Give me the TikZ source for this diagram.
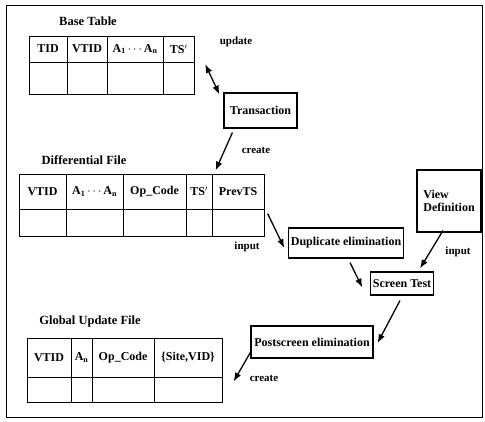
\documentclass[tikz,border=0pt]{standalone}
\usepackage{fontspec}
\setmainfont{Liberation Serif}
\usetikzlibrary{arrows.meta,matrix}

\tikzset{
  proc/.style={draw, line width=1.1pt, inner sep=2pt, font=\fontsize{12}{13}\selectfont\bfseries},
  tbl/.style={matrix of nodes, nodes in empty cells, anchor=north west,
    column sep=-1.1pt, row sep=-1.1pt,
    nodes={draw, line width=1.1pt, inner sep=0pt, anchor=center,
      font=\fontsize{12}{13}\selectfont\bfseries}},
  ttl/.style={font=\fontsize{12.5}{14}\selectfont\bfseries},
  lbl/.style={font=\fontsize{11}{12}\selectfont\bfseries},
  flow/.style={->, line width=1.3pt},
}

\begin{document}
\begin{tikzpicture}[>=Latex, x=1pt, y=-1pt]
    \useasboundingbox (0,0) rectangle (485,422);
    \draw[line width=0.8pt] (6,5) rectangle (482,417);

    % tables
    \node[ttl] (basettl) at (88,21) {Base Table};
    \matrix[tbl,
      column 1/.style={nodes={minimum width=38pt}},
      column 2/.style={nodes={minimum width=40pt}},
      column 3/.style={nodes={minimum width=56pt}},
      column 4/.style={nodes={minimum width=31pt}},
      row 1/.style={nodes={minimum height=26pt}},
      row 2/.style={nodes={minimum height=32pt}}] (base) at (25,32) {
      TID & VTID & A\textsubscript{1}\,$\cdots$\,A\textsubscript{n} & TS$'$ \\
          &      &                                                   &        \\
    };

    \node[ttl] (diffttl) at (84,160) {Differential File};
    \matrix[tbl,
      column 1/.style={nodes={minimum width=47pt}},
      column 2/.style={nodes={minimum width=57pt}},
      column 3/.style={nodes={minimum width=63pt}},
      column 4/.style={nodes={minimum width=26pt}},
      column 5/.style={nodes={minimum width=52pt}},
      row 1/.style={nodes={minimum height=35pt}},
      row 2/.style={nodes={minimum height=27pt}}] (diff) at (15,170) {
      VTID & A\textsubscript{1}\,$\cdots$\,A\textsubscript{n} & Op\_Code & TS$'$ & PrevTS \\
           &                                                   &          &       &        \\
    };

    \node[ttl] (globttl) at (90,321) {Global Update File};
    \matrix[tbl,
      column 1/.style={nodes={minimum width=44pt}},
      column 2/.style={nodes={minimum width=21pt}},
      column 3/.style={nodes={minimum width=62pt}},
      column 4/.style={nodes={minimum width=68pt}},
      row 1/.style={nodes={minimum height=39pt}},
      row 2/.style={nodes={minimum height=25pt}}] (glob) at (23,334) {
      VTID & A\textsubscript{n} & Op\_Code & \{Site,VID\} \\
           &                    &          &              \\
    };

    % processing steps
    \node[proc, minimum width=73pt, minimum height=35pt] (trans) at (260.5,110.5) {Transaction};
    \node[proc, minimum width=108pt, minimum height=30pt] (dup) at (346,243) {Duplicate elimination};
    \node[proc, minimum width=64pt, minimum height=62pt, align=left] (view) at (449,201) {View\\Definition};
    \node[proc, minimum width=52pt, minimum height=23pt] (screen) at (402,283.5) {Screen Test};
    \node[proc, minimum width=122pt, minimum height=32pt] (post) at (312,342) {Postscreen elimination};

    % labels
    \node[lbl] (updlbl) at (236,42) {update};
    \node[lbl] (crlbl1) at (256,150) {create};
    \node[lbl] (inlbl1) at (247,247) {input};
    \node[lbl] (inlbl2) at (458,252) {input};
    \node[lbl] (crlbl2) at (264,378) {create};

    % flows
    \draw[flow, <->] ([shift={(7,-1)}]base.east) -- ([shift={(-4,2)}]trans.north west);
    \draw[flow] ([shift={(9,4)}]trans.south west) -- ([shift={(4,-3)}]diff-1-5.north west);
    \draw[flow] ([shift={(3,4)}]diff-1-5.south east) -- ([shift={(-4,5)}]dup.west);
    \draw[flow] ([shift={(4,4)}]dup.south) -- ([shift={(-8,4)}]screen.west);
    \draw[flow] ([shift={(-6,-2)}]view.south) -- ([shift={(18,-3)}]screen.north);
    \draw[flow] ([shift={(-2,5)}]screen.south) -- ([shift={(4,1)}]post.east);
    \draw[flow] ([shift={(1,-8)}]post.south west) -- ([shift={(11,5)}]glob-2-4.north east);
  \end{tikzpicture}
\end{document}
